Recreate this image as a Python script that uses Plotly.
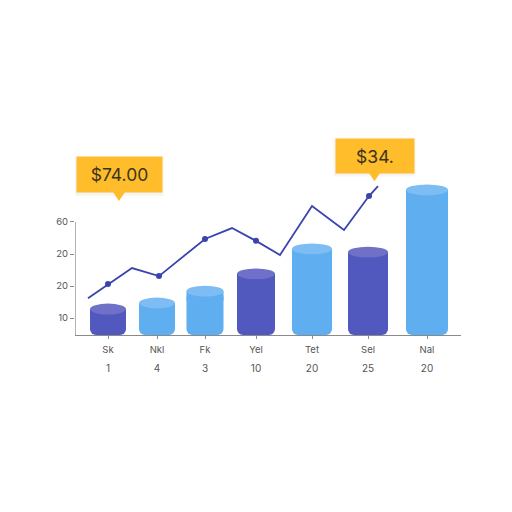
import plotly.graph_objects as go

# Data
months = ["Sk", "Nkl", "Fk", "Yel", "Tet", "Sel", "Nal"]
counts = ["1", "4", "3", "10", "20", "25", "20"]
bar_x = [108, 157, 205, 256, 312, 368, 427]
bar_widths = [36, 36, 37, 38, 40, 40, 42]
bar_tops = [12.8, 14.7, 18.4, 23.8, 31.6, 30.6, 50.0]
bar_kind = [0, 1, 1, 0, 1, 0, 1]
baseline = 4.7
line_x = [88, 108, 132, 159, 205, 232, 256, 280, 312, 344, 369, 378]
line_y = [16.2, 20.6, 25.6, 23.1, 34.7, 38.1, 34.1, 29.7, 45.0, 37.5, 48.1, 51.2]
marker_x = [108, 159, 205, 256, 369]
marker_y = [20.6, 23.1, 34.7, 34.1, 48.1]
y_ticks = [10, 20, 30, 40]
y_labels = ["10", "20", "20", "60"]
callout_text = ["$74.00", "$34."]
callout_x = [119, 374.5]
callout_y = [54.7, 60.7]

BODY = ["#5158BE", "#5FAEF0"]
CAP = ["#7170C8", "#7DBDF3"]
LINE = "#3A43AE"
YELLOW = "#FFBC2B"

fig = go.Figure()
fig.add_bar(
    x=bar_x,
    base=bar_tops,
    y=[baseline - t for t in bar_tops],
    width=bar_widths,
    marker=dict(color=[BODY[k] for k in bar_kind], line_width=0, cornerradius=6),
    hoverinfo="skip",
    showlegend=False,
)
fig.add_scatter(
    x=line_x, y=line_y, mode="lines",
    line=dict(color=LINE, width=1.8), hoverinfo="skip", showlegend=False,
)
fig.add_scatter(
    x=marker_x, y=marker_y, mode="markers",
    marker=dict(color=LINE, size=6, symbol="circle"),
    hoverinfo="skip", showlegend=False,
)
# invisible trace that keeps the second label row's axis alive
fig.add_scatter(
    x=bar_x, y=bar_tops, xaxis="x2", mode="markers",
    marker=dict(opacity=0), hoverinfo="skip", showlegend=False,
)

shapes = []
for x, w, t, k in zip(bar_x, bar_widths, bar_tops, bar_kind):
    # square shoulder under the cap so the cylinder's sides run straight up
    shapes.append(dict(
        type="rect", xref="x", yref="y", layer="above",
        x0=x - w / 2, x1=x + w / 2, y0=t - 3, y1=t,
        fillcolor=BODY[k], line_width=0,
    ))
    shapes.append(dict(
        type="circle", xref="x", yref="y", layer="above",
        x0=x - w / 2, x1=x + w / 2, y0=t - 1.7, y1=t + 1.7,
        fillcolor=CAP[k], line_width=0,
    ))
# y axis line, stops at the top tick
shapes.append(dict(
    type="line", xref="x", yref="y", x0=75, x1=75, y0=baseline, y1=y_ticks[-1] + 0.0,
    line=dict(color="#8a8a8a", width=1.3), layer="below",
))
# callouts: soft shadow and pointer
for cx, cy, w, dy in zip(callout_x, callout_y, [85, 78], [5.47, 5.3]):
    for grow, op in [(3, 0.012), (2, 0.016), (1, 0.02)]:
        shapes.append(dict(
            type="rect", xref="x", yref="y",
            x0=cx - w / 2 - grow, x1=cx + w / 2 + grow,
            y0=cy - dy - 0.5 - grow / 3.2, y1=cy + dy - 0.5 + grow / 3.2,
            fillcolor="#000000", opacity=op, line_width=0, layer="above",
        ))
    shapes.append(dict(
        type="path", xref="x", yref="y",
        path=f"M {cx-6},{cy-dy+0.1} L {cx},{cy-dy-2.7} L {cx+6},{cy-dy+0.1} Z",
        fillcolor=YELLOW, line_width=0, layer="above",
    ))

annotations = [
    dict(
        x=cx, y=cy, xref="x", yref="y", text=t, showarrow=False,
        width=w, height=h, bgcolor=YELLOW, align="center", valign="middle",
        font=dict(family="Inter, Open Sans, sans-serif", size=sz, color="#3B3420"),
    )
    for cx, cy, t, w, h, sz in zip(callout_x, callout_y, callout_text, [83, 76], [33, 32], [17.5, 17.5])
]

axis_font = dict(family="Inter, Open Sans, sans-serif", size=9.5, color="#555555")
fig.update_layout(
    width=512, height=512, autosize=False,
    margin=dict(l=75, r=51, t=100, b=177, pad=0),
    paper_bgcolor="white", plot_bgcolor="white",
    shapes=shapes, annotations=annotations,
    xaxis=dict(
        range=[75, 461], tickmode="array", tickvals=bar_x, ticktext=months,
        showgrid=False, zeroline=False, showline=True, linecolor="#8a8a8a", linewidth=1.3,
        ticks="outside", ticklen=3, tickcolor="#8a8a8a", tickfont=axis_font,
        ticklabelstandoff=2, automargin=False,
    ),
    xaxis2=dict(
        range=[75, 461], overlaying="x", side="bottom", anchor="y",
        tickmode="array", tickvals=bar_x, ticktext=counts,
        showgrid=False, zeroline=False, showline=False,
        ticks="outside", ticklen=24, tickcolor="rgba(0,0,0,0)",
        tickfont=dict(family="Inter, Open Sans, sans-serif", size=10, color="#555555"),
        automargin=False,
    ),
    yaxis=dict(
        range=[baseline, 78.1], tickmode="array", tickvals=y_ticks, ticktext=y_labels,
        showgrid=False, zeroline=False, showline=False,
        ticks="outside", ticklen=4, tickcolor="#8a8a8a", tickfont=axis_font,
        automargin=False,
    ),
)
fig.write_html("out.html", post_script="document.body.style.margin='0';", config=dict(displayModeBar=False))
